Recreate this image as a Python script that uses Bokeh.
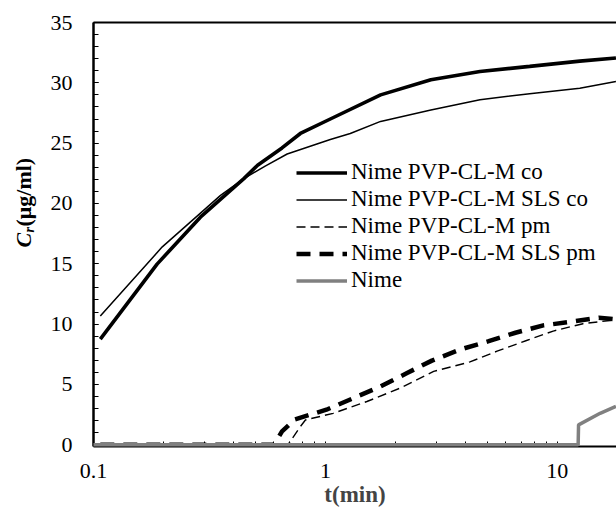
from bokeh.plotting import figure
from bokeh.models import (Legend, LegendItem, LogAxis, FixedTicker, SingleIntervalTicker,
                          Range1d, Label, CustomJSTickFormatter)
from bokeh.embed import file_html
from bokeh.resources import INLINE

# ---- data ----
t_co = [0.107, 0.188, 0.289, 0.445, 0.51, 0.65, 0.78, 1.05, 1.73, 2.85, 4.64, 7.6, 12.5, 17.9]
c_co = [8.75, 14.97, 18.86, 22.06, 23.17, 24.6, 25.8, 27.0, 29.0, 30.25, 30.94, 31.36, 31.8, 32.06]

t_sls_co = [0.107, 0.198, 0.353, 0.445, 0.55, 0.684, 1.05, 1.28, 1.73, 2.85, 4.64, 7.6, 12.5, 17.9]
c_sls_co = [10.67, 16.4, 20.67, 22.06, 23.1, 24.1, 25.3, 25.8, 26.8, 27.75, 28.6, 29.1, 29.55, 30.1]

t_pm = [0.107, 0.69, 0.78, 0.82, 1.08, 1.51, 2.1, 2.93, 4.2, 5.5, 7.37, 9.6, 12.9, 16.9, 17.9]
c_pm = [0, 0, 1.5, 2.05, 2.6, 3.58, 4.69, 6.08, 6.86, 7.75, 8.64, 9.42, 10.03, 10.3, 10.35]

t_sls_pm = [0.107, 0.6, 0.65, 0.74, 1.01, 1.32, 1.73, 2.25, 2.88, 3.83, 5.06, 6.6, 8.7, 11.6, 15.1, 17.9]
c_sls_pm = [0, 0, 1.1, 2.1, 2.9, 3.86, 4.83, 5.94, 6.97, 7.9, 8.58, 9.28, 9.89, 10.2, 10.53, 10.4]

t_nime = [0.1, 12.3, 12.35, 15.3, 17.9]
c_nime = [0, 0, 1.64, 2.6, 3.17]

names = ["Nime PVP-CL-M co", "Nime PVP-CL-M SLS co", "Nime PVP-CL-M pm",
         "Nime PVP-CL-M SLS pm", "Nime"]

x_major = [0.1, 1, 10]
x_minor = [0.2, 0.3, 0.4, 0.5, 0.6, 0.7, 0.8, 0.9, 2, 3, 4, 5, 6, 7, 8, 9, 20]

FONT = "Liberation Serif"

p = figure(width=616, height=509, x_axis_type="log",
           x_range=Range1d(0.1, 18.0), y_range=Range1d(-0.15, 35),
           output_backend="svg", toolbar_location=None,
           min_border_left=93, min_border_right=0, min_border_top=22, min_border_bottom=0)
p.outline_line_color = None
p.grid.visible = False
p.background_fill_color = "white"

r1 = p.line(t_co, c_co, line_color="black", line_width=3.6)
r2 = p.line(t_sls_co, c_sls_co, line_color="black", line_width=1.5)
r3 = p.line(t_pm, c_pm, line_color="black", line_width=1.4, line_dash="9 5")
r4 = p.line(t_sls_pm, c_sls_pm, line_color="black", line_width=4.5, line_dash="14 9")
r5 = p.line(t_nime, c_nime, line_color="#808080", line_width=3.5, level="overlay")

# x axis
xa = p.xaxis[0]
xa.ticker = FixedTicker(ticks=x_major, minor_ticks=x_minor)
xa.formatter = CustomJSTickFormatter(code="return tick.toString();")
xa.axis_label = "t(min)"
xa.axis_label_text_font = FONT
xa.axis_label_text_font_style = "bold"
xa.axis_label_text_font_size = "23px"
xa.axis_label_standoff = 1
xa.major_label_text_font = FONT
xa.major_label_text_font_size = "22px"
xa.major_label_text_color = "black"
xa.major_label_standoff = 17
xa.axis_line_width = 2
xa.axis_line_color = "black"
xa.major_tick_in = 5
xa.major_tick_out = 0
xa.minor_tick_in = 5
xa.minor_tick_out = 0
xa.major_tick_line_color = "black"
xa.minor_tick_line_color = "black"

# y axis
ya = p.yaxis[0]
ya.ticker = SingleIntervalTicker(interval=5, num_minor_ticks=5)
ya.major_label_text_font = FONT
ya.major_label_text_font_size = "22px"
ya.major_label_text_color = "black"
ya.major_label_standoff = 21
ya.axis_line_width = 2.5
ya.axis_line_color = "black"
ya.major_tick_in = 5
ya.major_tick_out = 0
ya.minor_tick_in = 5
ya.minor_tick_out = 0

# top border line
top = LogAxis(ticker=FixedTicker(ticks=[]), major_label_text_font_size="0px",
              major_label_standoff=0, major_tick_in=0, major_tick_out=0,
              minor_tick_in=0, minor_tick_out=0, axis_line_width=2, axis_line_color="black")
p.add_layout(top, "above")

# y axis label: C (italic) r (subscript) (µg/ml), placed in side panels (not clipped)
lab_kw = dict(x_units="canvas", y_units="canvas", angle=90, angle_units="deg",
              text_font=FONT, text_color="black", text_baseline="middle", text_align="left")
p.add_layout(Label(x=23, y=247, text="C", text_font_size="22px",
                   text_font_style="bold italic", **lab_kw), "above")
p.add_layout(Label(x=29, y=232, text="r", text_font_size="14px",
                   text_font_style="bold italic", **lab_kw), "above")
p.add_layout(Label(x=23, y=226, text="(μg/ml)", text_font_size="22px",
                   text_font_style="bold", **lab_kw), "left")

legend = Legend(items=[LegendItem(label=n, renderers=[r]) for n, r in
                       zip(names, [r1, r2, r3, r4, r5])],
                location=(203, 153), orientation="vertical",
                label_text_font=FONT, label_text_font_size="23px", label_text_color="black",
                glyph_width=51, glyph_height=25, label_height=25, label_standoff=4,
                spacing=1, padding=7, margin=0,
                background_fill_color="white", background_fill_alpha=1.0,
                border_line_color=None)
p.add_layout(legend, "center")

open("out.html", "w").write(file_html(p, INLINE))
